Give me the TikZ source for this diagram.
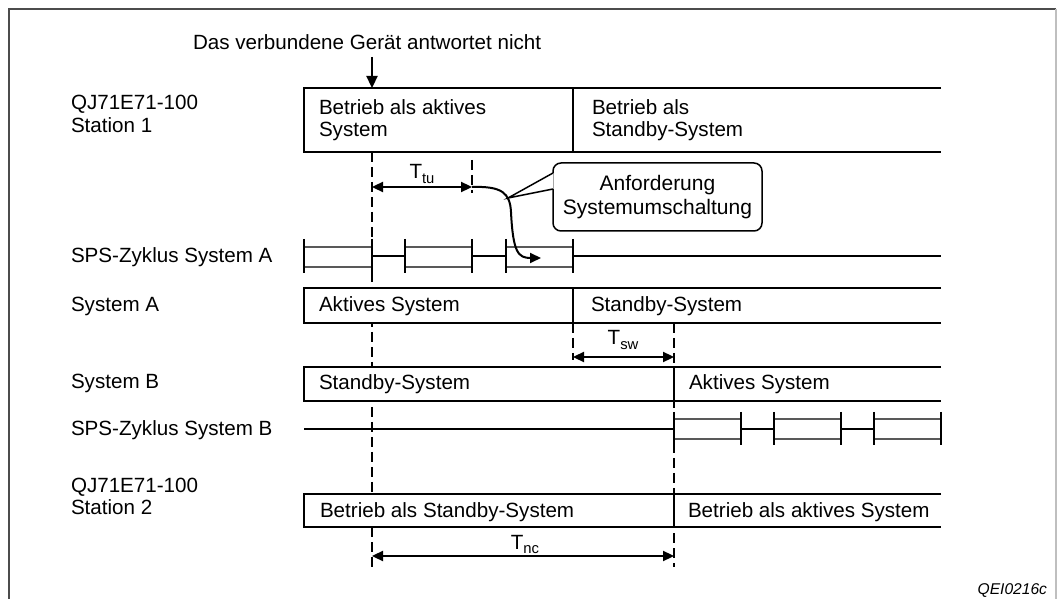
\documentclass[tikz,border=0pt]{standalone}
\usepackage{fontspec}
\setmainfont{Liberation Sans}
\usetikzlibrary{arrows.meta}
\newcommand\tsub[1]{\raisebox{-0.45ex}{\fontsize{7.4}{8}\selectfont #1}}
\begin{document}
\begin{tikzpicture}[x=0.5pt,y=-0.5pt,
  every node/.style={inner sep=0pt, outer sep=0pt, font=\fontsize{10.3}{12}\selectfont},
  lbl/.style={anchor=base west},
  ctr/.style={anchor=base},
  boxline/.style={line width=1.15pt, draw=black, fill=white},
  sepline/.style={line width=1.15pt},
  cyc/.style={line width=1.15pt, draw=black!65},
  tickln/.style={line width=1.15pt},
  dashln/.style={line width=1.1pt, dash pattern=on 5pt off 2.5pt},
  dimarrow/.style={line width=1.15pt, {Triangle[length=5.5pt,width=5pt]}-{Triangle[length=5.5pt,width=5pt]}},
]
\useasboundingbox (0,0) rectangle (1057,599);
% frame
\draw[line width=0.8pt, black!70] (9,620) -- (9,9) -- (1056,9);
\draw[line width=0.8pt, black!25] (1056,9) -- (1056,620);

% dashed guide lines
\coordinate (g1t) at (372,152); \coordinate (g1b) at (372,567);
\coordinate (g2t) at (472,160); \coordinate (g2b) at (472,193);
\coordinate (g3t) at (573,323); \coordinate (g3b) at (573,360);
\coordinate (g4t) at (674,323); \coordinate (g4b) at (674,567);
\draw[dashln] (g1t) -- (g1b);
\draw[dashln] (g2t) -- (g2b);
\draw[dashln] (g3t) -- (g3b);
\draw[dashln] (g4t) -- (g4b);

% top note
\node[lbl] (note) at (193,50) {Das verbundene Gerät antwortet nicht};
\coordinate (noteArr) at (372,57);
\coordinate (st1top) at (372,88);
\draw[line width=1.15pt, -{Triangle[length=6pt,width=5.5pt]}] (noteArr) -- (st1top);

% left labels
\node[lbl] (lq1) at (71,110) {QJ71E71-100};
\node[lbl] (ls1) at (71,133) {Station 1};
\node[lbl] (lspsA) at (71,263) {SPS-Zyklus System A};
\node[lbl] (lsysA) at (71,312) {System A};
\node[lbl] (lsysB) at (71,388) {System B};
\node[lbl] (lspsB) at (71,436) {SPS-Zyklus System B};
\node[lbl] (lq2) at (71,493) {QJ71E71-100};
\node[lbl] (ls2) at (71,515) {Station 2};

% Station 1 row
\draw[boxline] (941,88) -- (304,88) -- (304,152) -- (941,152);
\draw[sepline] (573,88) -- (573,152);
\node[lbl] (s1a1) at (319,115) {Betrieb als aktives};
\node[lbl] (s1a2) at (319,137) {System};
\node[lbl] (s1b1) at (592,115) {Betrieb als};
\node[lbl] (s1b2) at (592,137) {Standby-System};

% SPS cycle A
\foreach \a/\b in {304/372,405/472,506/573}{
  \draw[cyc] (\a,247) -- (\b,247);
  \draw[cyc] (\a,267) -- (\b,267);
}
\draw[sepline] (372,256) -- (405,256);
\draw[sepline] (472,256) -- (506,256);
\draw[sepline] (573,256) -- (941,256);
\foreach \x in {304,372,405,472,506,573}{
  \draw[tickln] (\x,239) -- (\x,273);
}

% System A row
\draw[boxline] (941,288) -- (304,288) -- (304,323) -- (941,323);
\draw[sepline] (573,288) -- (573,323);
\node[lbl] (sa1) at (319,312) {Aktives System};
\node[lbl] (sa2) at (591,312) {Standby-System};

% System B row
\draw[boxline] (941,367) -- (304,367) -- (304,401) -- (941,401);
\draw[sepline] (674,367) -- (674,401);
\node[lbl] (sb1) at (319,390) {Standby-System};
\node[lbl] (sb2) at (689,390) {Aktives System};

% SPS cycle B
\draw[sepline] (304,429) -- (674,429);
\foreach \a/\b in {674/741,774/841,874/941}{
  \draw[cyc] (\a,419) -- (\b,419);
  \draw[cyc] (\a,439) -- (\b,439);
}
\draw[sepline] (741,429) -- (774,429);
\draw[sepline] (841,429) -- (874,429);
\foreach \x in {674,741,774,841,874,941}{
  \draw[tickln] (\x,412) -- (\x,445);
}

% Station 2 row
\draw[boxline] (941,494) -- (304,494) -- (304,527) -- (941,527);
\draw[sepline] (674,494) -- (674,527);
\node[lbl] (s2a) at (320,517) {Betrieb als Standby-System};
\node[lbl] (s2b) at (688,517) {Betrieb als aktives System};

% dimension arrows
\coordinate (tuA) at (372,187); \coordinate (tuB) at (472,187);
\draw[dimarrow] (tuA) -- (tuB);
\node[ctr] (ttu) at (422,179) {T\tsub{tu}};
\coordinate (swA) at (573,357); \coordinate (swB) at (674,357);
\draw[dimarrow] (swA) -- (swB);
\node[ctr] (tsw) at (623,345) {T\tsub{sw}};
\coordinate (ncA) at (372,556); \coordinate (ncB) at (674,556);
\draw[dimarrow] (ncA) -- (ncB);
\node[ctr] (tnc) at (525,549) {T\tsub{nc}};

% request curve
\coordinate (reqEnd) at (541,258);
\draw[line width=1pt, -{Triangle[length=5.5pt,width=5pt]}]
  (tuB) .. controls (502,186) and (510,193) .. (511,212)
        .. controls (513,252) and (518,258) .. (reqEnd);

% callout
\node[draw, line width=0.75pt, rounded corners=4pt, fill=white,
      minimum width=104.5pt, minimum height=34pt, align=center,
      font=\fontsize{10.5}{12}\selectfont] (callout) at (657.5,197)
      {Anforderung\\Systemumschaltung};
\coordinate (ptip) at (508,198);
\fill[white] (553.5,173) -- (ptip) -- (553.5,189) -- cycle;
\draw[line width=0.75pt] (553,173) -- (ptip) -- (553,189);

% figure id
\node[anchor=base east, font=\fontsize{7.8}{9}\selectfont\itshape] (fid) at (1047,595) {QEI0216c};
\end{tikzpicture}
\end{document}
